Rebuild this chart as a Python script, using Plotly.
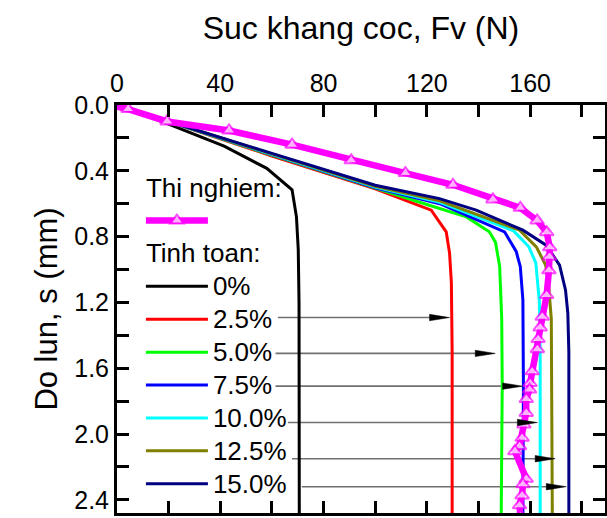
import plotly.graph_objects as go

# ---------------- data ----------------
# Experimental (Thi nghiem)
F_test = [0.0, 4.3, 19.4, 43.4, 67.8, 90.7, 111.7, 130.1, 145.6, 156.2, 162.7, 166.4,
          167.6, 167.5, 167.3, 166.4, 164.7, 163.9, 163.1, 162.8, 160.8, 160.0, 159.8,
          158.5, 158.5, 157.6, 156.9, 155.9, 154.1, 158.5, 157.2, 156.9, 155.9, 156.2]
s_test = [0.01, 0.025, 0.10, 0.155, 0.241, 0.336, 0.414, 0.485, 0.574, 0.625, 0.702, 0.773,
          0.865, 0.922, 1.005, 1.155, 1.287, 1.352, 1.423, 1.484, 1.619, 1.690, 1.730,
          1.787, 1.872, 1.942, 2.023, 2.074, 2.104, 2.272, 2.306, 2.373, 2.433, 2.50]

# Calculated (Tinh toan)
series_names = ["0%", "2.5%", "5.0%", "7.5%", "10.0%", "12.5%", "15.0%"]
F_00 = [0, 19.0, 41.5, 58.0, 67.8, 69.5, 70.2, 70.5, 70.6]
s_00 = [0, 0.11, 0.25, 0.385, 0.515, 0.68, 0.88, 1.20, 2.50]
F_25 = [0, 20, 60, 100, 121.7, 127.5, 128.8, 129.5, 129.8, 129.8]
s_25 = [0, 0.10, 0.31, 0.51, 0.639, 0.771, 0.90, 1.08, 1.50, 2.50]
F_50 = [0, 20, 60, 100, 120, 135.3, 144.2, 146.6, 148.2, 149.0, 149.2, 148.8]
s_50 = [0, 0.10, 0.305, 0.508, 0.605, 0.68, 0.771, 0.835, 0.98, 1.30, 1.70, 2.50]
F_75 = [0, 20, 60, 100, 125, 150.1, 154.6, 156.2, 157.2, 157.4, 157.2]
s_75 = [0, 0.10, 0.303, 0.503, 0.600, 0.771, 0.89, 0.983, 1.185, 1.70, 2.50]
F_100 = [0, 20, 60, 100, 125, 153.6, 159.5, 162.2, 163.6, 163.9, 163.9]
s_100 = [0, 0.10, 0.300, 0.499, 0.592, 0.765, 0.862, 0.96, 1.20, 1.50, 2.50]
F_125 = [0, 20, 60, 100, 125, 155.9, 162.4, 166.0, 167.0, 168.2, 168.6]
s_125 = [0, 0.10, 0.297, 0.494, 0.583, 0.761, 0.862, 0.973, 1.064, 1.30, 2.50]
F_150 = [0, 20, 60, 100, 124.9, 139.1, 157.2, 166.2, 171.4, 173.7, 174.6, 175.0, 175.0]
s_150 = [0, 0.10, 0.294, 0.488, 0.569, 0.639, 0.761, 0.852, 0.973, 1.124, 1.265, 1.50, 2.50]

series_F = [F_00, F_25, F_50, F_75, F_100, F_125, F_150]
series_s = [s_00, s_25, s_50, s_75, s_100, s_125, s_150]
series_colors = ["#000000", "#FF0000", "#00FF00", "#0000FF", "#00FFFF", "#808000", "#000080"]

# Pointer arrows (label -> curve)
arrow_s = [1.292, 1.510, 1.709, 1.930, 2.150, 2.320]
arrow_F_start = [62.3, 61.4, 61.4, 66.2, 67.8, 71.6]
arrow_F_tip = [128.8, 146.5, 157.1, 162.8, 169.7, 174.0]

# Axis ticks (labelled); unlabelled ticks halfway between them
x_ticks = [0, 40, 80, 120, 160]
y_ticks = [0.0, 0.4, 0.8, 1.2, 1.6, 2.0, 2.4]

# ---------------- layout constants ----------------
W, H = 607, 518
ML, MR, MT, MB = 117, 2, 105, 5
X_RANGE = [0, 189]
Y_RANGE = [2.48, 0]
FONT = "Liberation Sans, Arial, sans-serif"

plot_w = W - ML - MR
plot_h = H - MT - MB
px_per_F = plot_w / (X_RANGE[1] - X_RANGE[0])
px_per_s = plot_h / (Y_RANGE[0] - Y_RANGE[1])
head_len = 20 / px_per_F
head_hw = 3.2 / px_per_s


def with_half_ticks(ticks, fmt, lo, hi):
    step = ticks[1] - ticks[0]
    vals, texts = [], []
    for t in ticks:
        vals.append(round(t, 4)); texts.append(fmt % t)
        m = round(t + step / 2, 4)
        if lo <= m <= hi:
            vals.append(m); texts.append("")
    return vals, texts


xv, xt = with_half_ticks(x_ticks, "%d", min(X_RANGE), max(X_RANGE))
yv, yt = with_half_ticks(y_ticks, "%.1f", min(Y_RANGE), max(Y_RANGE))

fig = go.Figure()

# pointer lines (one trace each, below the curves)
for fs, ft, sv in zip(arrow_F_start, arrow_F_tip, arrow_s):
    fig.add_trace(go.Scatter(x=[fs, ft - head_len * 0.5], y=[sv, sv], mode="lines",
                             line=dict(color="#707070", width=1.6),
                             showlegend=False, hoverinfo="skip"))

for i, (name, fx, sy, col) in enumerate(zip(series_names, series_F, series_s, series_colors)):
    fig.add_trace(go.Scatter(
        x=fx, y=sy, mode="lines", line=dict(color=col, width=3),
        name='<span style="font-size:26px">%s</span>' % name,
        legendgroup="calc", legendrank=10 + i,
        legendgrouptitle=dict(text='<span style="font-size:26px">Tinh toan:</span>',
                              font=dict(size=23, family=FONT, color="black")),
    ))

msizes = [0] + [12] * (len(F_test) - 1)
fig.add_trace(go.Scatter(
    x=F_test, y=s_test, mode="lines+markers",
    line=dict(color="#FF00FF", width=6.5),
    marker=dict(symbol="triangle-up", size=msizes, color="white",
                line=dict(color="#FF00FF", width=2)),
    name=" ", legendgroup="exp", legendrank=1,
    legendgrouptitle=dict(text='<span style="font-size:26px">Thi nghiem:</span>',
                          font=dict(size=23, family=FONT, color="black")),
))

# arrow heads as small filled triangles (traces, on top)
for ft, sv in zip(arrow_F_tip, arrow_s):
    fig.add_trace(go.Scatter(
        x=[ft, ft - head_len, ft - head_len, ft],
        y=[sv, sv - head_hw, sv + head_hw, sv],
        mode="lines", fill="toself", fillcolor="black",
        line=dict(color="black", width=0.5),
        showlegend=False, hoverinfo="skip"))

axis_common = dict(
    showline=True, linewidth=3, linecolor="black", mirror="allticks",
    ticks="inside", ticklen=12, tickwidth=3, tickcolor="black",
    showgrid=False, zeroline=False,
    tickfont=dict(family=FONT, size=25, color="black"),
)

fig.update_layout(
    template="none",
    width=W, height=H,
    margin=dict(l=ML, r=MR, t=MT, b=MB),
    paper_bgcolor="white", plot_bgcolor="white",
    font=dict(family=FONT, color="black"),
    xaxis=dict(
        side="top", range=X_RANGE, tickmode="array", tickvals=xv, ticktext=xt,
        title=dict(text="Suc khang coc, Fv (N)", font=dict(family=FONT, size=32, color="black"),
                   standoff=20),
        **axis_common,
    ),
    yaxis=dict(
        range=Y_RANGE, tickmode="array", tickvals=yv, ticktext=yt,
        title=dict(text="Do lun, s (mm)", font=dict(family=FONT, size=31, color="black"),
                   standoff=8),
        **axis_common,
    ),
    legend=dict(
        x=0.049, y=0.85, xanchor="left", yanchor="top",
        bgcolor="rgba(0,0,0,0)", borderwidth=0,
        font=dict(family=FONT, size=23, color="black"),
        itemwidth=62, tracegroupgap=0, traceorder="grouped",
    ),
    showlegend=True,
)

fig.write_html("out.html")
